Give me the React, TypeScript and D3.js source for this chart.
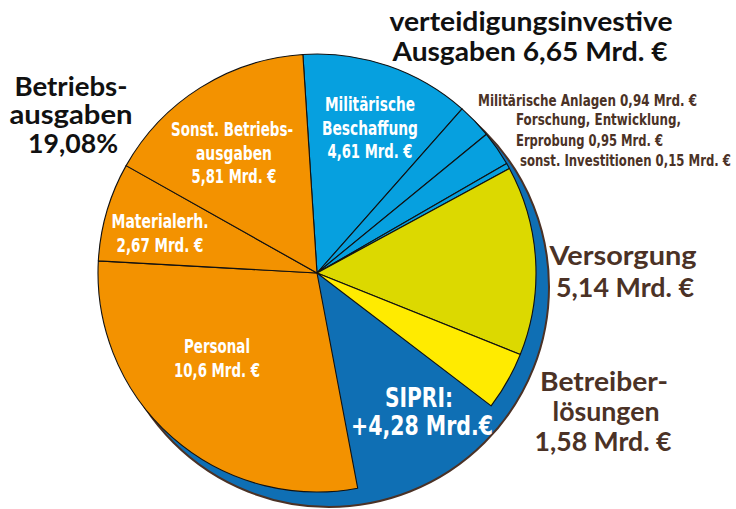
import React from 'react';
import * as d3 from 'd3';

// Verteidigungshaushalt, Anteile in Mrd. €
const categories = [
  'Militärische Beschaffung',
  'Militärische Anlagen',
  'Forschung, Entwicklung, Erprobung',
  'sonst. Investitionen',
  'Versorgung',
  'Betreiberlösungen',
  'SIPRI',
  'Personal',
  'Materialerh.',
  'Sonst. Betriebsausgaben',
];
const values = [4.61, 0.94, 0.95, 0.15, 5.14, 1.58, 4.28, 10.6, 2.67, 5.81];
const sliceColors = [
  '#06a0df', '#06a0df', '#06a0df', '#06a0df',
  '#dcd900', '#ffeb00', 'none',
  '#f39200', '#f39200', '#f39200',
];

const W = 736;
const H = 509;
const cx = 317;
const cy = 273;
const r = 219;

const COND = '"DejaVu Sans Condensed", "DejaVu Sans", sans-serif';
const BOLD = 'Lato, "Open Sans", sans-serif';
const BROWN = '#4b3226';

type LineProps = {
  x: number; y: number; w: number; size: number; fill: string;
  family: string; anchor?: 'start' | 'middle' | 'end'; children: string;
};

// one line of text squeezed to the width it has in the original
const Line = ({ x, y, w, size, fill, family, anchor = 'middle', children }: LineProps) => (
  <text x={x} y={y} fill={fill} fontFamily={family} fontWeight="bold" fontSize={size}
    textAnchor={anchor} textLength={w} lengthAdjust="spacingAndGlyphs">
    {children}
  </text>
);

const App = () => {
  const pie = d3.pie<number>()
    .sort(null)
    .startAngle((-3.7 * Math.PI) / 180)
    .endAngle((-3.7 * Math.PI) / 180 + 2 * Math.PI);
  const arcs = pie(values);
  const arc = d3.arc<d3.PieArcDatum<number>>().innerRadius(0).outerRadius(r);

  const white = (t: string, x: number, y: number, w: number, size = 19) => (
    <Line x={x} y={y} w={w} size={size} fill="#fff" family={COND}>{t}</Line>
  );
  const small = (t: string, x: number, y: number, w: number, anchor: 'start' | 'end' = 'start') => (
    <Line x={x} y={y} w={w} size={15} fill={BROWN} family={COND} anchor={anchor}>{t}</Line>
  );
  const big = (t: string, x: number, y: number, w: number, fill = BROWN) => (
    <Line x={x} y={y} w={w} size={27} fill={fill} family={BOLD}>{t}</Line>
  );

  return (
    <svg width={W} height={H} style={{ position: 'absolute', left: 0, top: 0, background: '#fff' }}>
      {/* blauer Hintergrundkreis (SIPRI) */}
      <circle cx={cx + 12} cy={cy + 14} r={r + 1} fill="#0f6fb4" stroke={BROWN} strokeWidth={2} />
      <g transform={`translate(${cx},${cy})`}>
        {arcs.map((a, i) => (
          categories[i] === 'SIPRI' ? null : (
            <path key={categories[i]} d={arc(a) || ''} fill={sliceColors[i]}
              stroke="#111" strokeWidth={1.1} strokeLinejoin="round" />
          )
        ))}
      </g>

      {white('Militärische', 370, 111, 90)}
      {white('Beschaffung', 370, 135, 96)}
      {white('4,61 Mrd. €', 370, 158, 85)}
      {white('Sonst. Betriebs-', 232, 136, 122)}
      {white('ausgaben', 234, 160, 76)}
      {white('5,81 Mrd. €', 234, 183, 85)}
      {white('Materialerh.', 160, 228, 97)}
      {white('2,67 Mrd. €', 160, 252, 87)}
      {white('Personal', 217, 353, 66)}
      {white('10,6 Mrd. €', 217, 377, 86)}
      {white('SIPRI:', 419, 407, 68, 27)}
      {white('+4,28 Mrd.€', 422, 435, 142, 27)}

      {big('verteidigungsinvestive', 531, 31, 283, '#111')}
      {big('Ausgaben 6,65 Mrd. €', 530, 61, 275, '#111')}
      {big('Betriebs-', 71, 96, 113, '#111')}
      {big('ausgaben', 71, 124, 123, '#111')}
      {big('19,08%', 73, 153, 90, '#111')}
      {big('Versorgung', 623, 265, 147)}
      {big('5,14 Mrd. €', 625, 297, 138)}
      {big('Betreiber-', 604, 391, 128)}
      {big('lösungen', 606, 421, 107)}
      {big('1,58 Mrd. €', 603, 451, 137)}

      {small('Militärische Anlagen 0,94 Mrd. €', 478, 106, 219)}
      {small('Forschung, Entwicklung,', 516, 125, 165)}
      {small('Erprobung 0,95 Mrd. €', 516, 146, 147)}
      {small('sonst. Investitionen 0,15 Mrd. €', 731, 166, 211, 'end')}
    </svg>
  );
};

export default App;
